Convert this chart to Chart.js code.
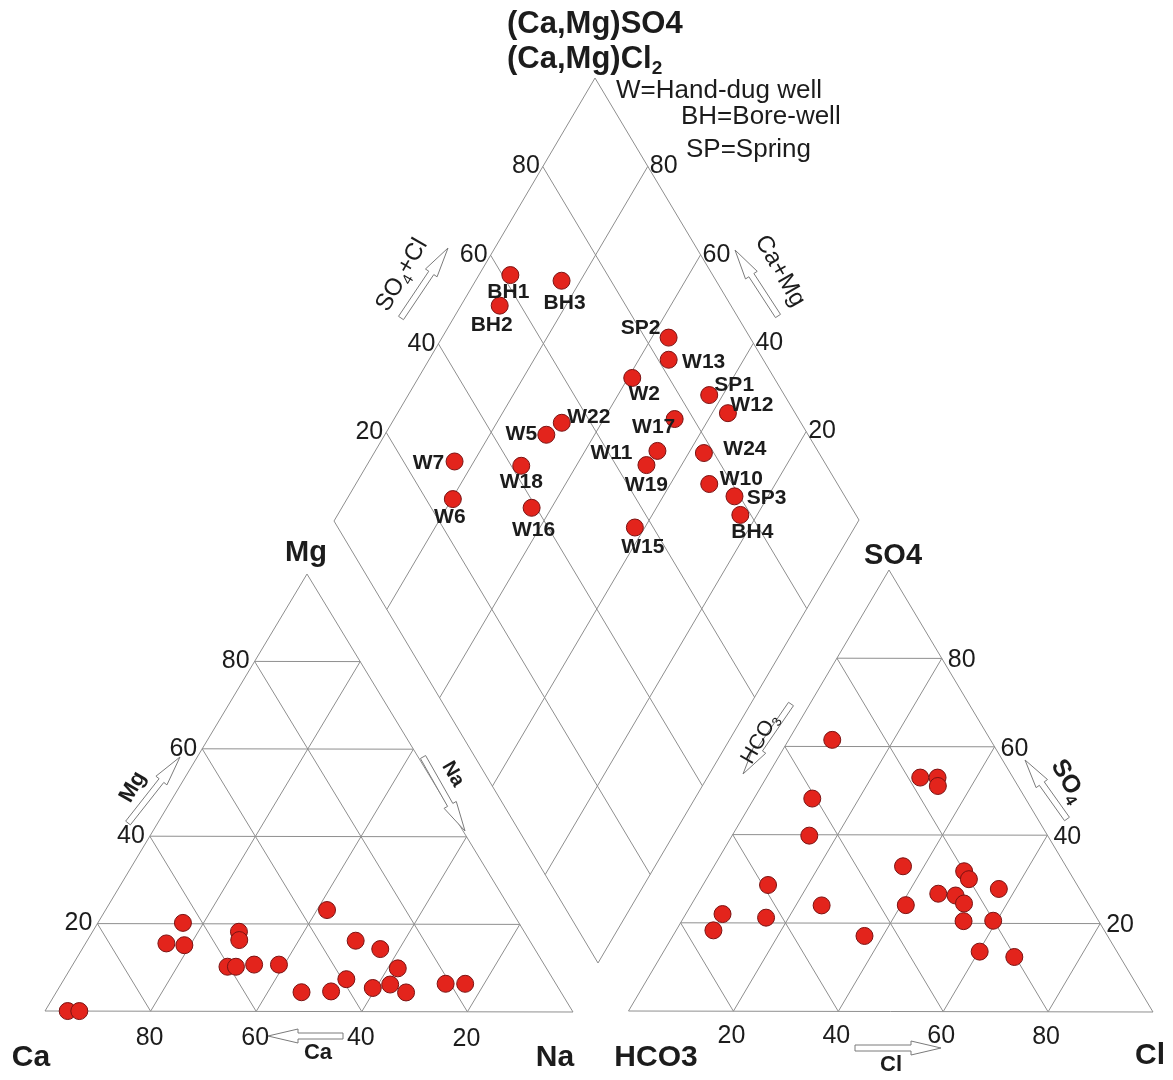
<!DOCTYPE html>
<html>
<head>
<meta charset="utf-8">
<script src="https://cdn.jsdelivr.net/npm/chart.js@4.4.0/dist/chart.umd.min.js"></script>
<style>
  body { margin: 0; background: #fff; }
  #wrap { width: 1173px; height: 1080px; }
</style>
</head>
<body>
<div id="wrap"><canvas id="piper" width="1173" height="1080"></canvas></div>
<script>
// tick values on every side
const ticks = [20, 40, 60, 80];

// cation triangle, meq % (Na = 100 - Ca - Mg)
const caPct = [95.7, 93.5, 63.7, 69.2, 66.0, 54.1, 55.0, 60.3, 58.7, 55.0, 50.3, 34.9,
  49.2, 43.5, 39.2, 33.0, 29.3, 35.2, 31.5, 28.2, 29.4, 20.9, 17.2];
const mgPct = [0, 0, 20.2, 15.5, 15.1, 18.2, 16.3, 10.2, 10.2, 10.7, 10.7, 23.2,
  4.4, 4.6, 7.4, 16.2, 14.3, 5.4, 6.2, 9.9, 4.4, 6.4, 6.4];

// anion triangle, meq % (HCO3 = 100 - SO4 - Cl)
const so4Pct = [61.5, 53.0, 53.0, 51.1, 48.2, 39.8, 32.9, 31.8, 30.0, 27.8, 26.7, 26.3,
  24.5, 24.1, 24.0, 28.6, 21.2, 22.0, 18.3, 20.5, 20.6, 17.1, 13.6, 12.4];
const clPct = [8.3, 29.3, 32.6, 33.6, 11.1, 14.7, 36.0, 48.2, 50.0, 56.8, 45.8, 49.3,
  51.8, 40.9, 24.9, 12.4, 15.7, 7.0, 7.1, 53.7, 59.3, 36.5, 60.2, 67.4];

// diamond
const sampleIds = ['BH1', 'BH2', 'BH3', 'SP2', 'W13', 'W2', 'SP1', 'W12', 'W17', 'W22', 'W5',
  'W11', 'W24', 'W19', 'W7', 'W18', 'W10', 'SP3', 'BH4', 'W6', 'W16', 'W15'];
const so4ClPct = [61.5, 56.0, 70.6, 84.5, 82.0, 73.0, 85.7, 87.2, 76.4, 54.5, 50.2,
  69.5, 78.1, 65.8, 29.7, 41.9, 75.6, 79.0, 78.0, 25.1, 39.1, 56.5];
const naPct = [6.0, 7.4, 16.4, 43.2, 45.7, 40.8, 57.4, 63.0, 53.5, 32.4, 30.8,
  53.8, 62.9, 53.3, 16.3, 29.5, 67.4, 73.6, 76.8, 20.2, 36.2, 58.1];

// ---- layout ----
const W = 1173, H = 1080;
const CAT = { ca: [45, 1011], na: [573, 1012], mg: [307, 574] };
const ANI = { hco3: [628.5, 1011], cl: [1153, 1012], so4: [889, 570] };
const DIA = { l: [334, 521], t: [595, 78], b: [598, 963] };
const FONT = '"Liberation Sans", Arial, sans-serif';
const GRID = '#8e8e8e';

function mix(pts, ws) {
  let x = 0, y = 0;
  pts.forEach((p, i) => { x += p[0] * ws[i]; y += p[1] * ws[i]; });
  return { x, y };
}
function catXY(ca, mg) {
  const na = 100 - ca - mg;
  return mix([CAT.ca, CAT.na, CAT.mg], [ca / 100, na / 100, mg / 100]);
}
function aniXY(so4, cl) {
  const h = 100 - so4 - cl;
  return mix([ANI.hco3, ANI.cl, ANI.so4], [h / 100, cl / 100, so4 / 100]);
}
function diaXY(s, n) {
  s /= 100; n /= 100;
  return {
    x: DIA.l[0] + s * (DIA.t[0] - DIA.l[0]) + n * (DIA.b[0] - DIA.l[0]),
    y: DIA.l[1] + s * (DIA.t[1] - DIA.l[1]) + n * (DIA.b[1] - DIA.l[1])
  };
}

const segs = [];
// cation triangle
segs.push([catXY(100, 0), catXY(0, 0)], [catXY(100, 0), catXY(0, 100)], [catXY(0, 0), catXY(0, 100)]);
ticks.forEach(t => {
  segs.push([catXY(100 - t, t), catXY(0, t)]);
  segs.push([catXY(t, 0), catXY(t, 100 - t)]);
  segs.push([catXY(100 - t, 0), catXY(0, 100 - t)]);
});
// anion triangle
segs.push([aniXY(0, 0), aniXY(0, 100)], [aniXY(0, 0), aniXY(100, 0)], [aniXY(0, 100), aniXY(100, 0)]);
ticks.forEach(t => {
  segs.push([aniXY(t, 0), aniXY(t, 100 - t)]);
  segs.push([aniXY(0, t), aniXY(100 - t, t)]);
  segs.push([aniXY(100 - t, 0), aniXY(0, 100 - t)]);
});
// diamond
segs.push([diaXY(0, 0), diaXY(100, 0)], [diaXY(100, 0), diaXY(100, 100)],
  [diaXY(100, 100), diaXY(0, 100)], [diaXY(0, 100), diaXY(0, 0)]);
ticks.forEach(t => {
  segs.push([diaXY(t, 0), diaXY(t, 100)]);
  segs.push([diaXY(0, t), diaXY(100, t)]);
});

const pointStyle = {
  showLine: false, pointRadius: 8.5, pointBackgroundColor: '#e3241c',
  pointBorderColor: '#7a1212', pointBorderWidth: 1
};
const datasets = [
  Object.assign({ data: caPct.map((c, i) => catXY(c, mgPct[i])) }, pointStyle),
  Object.assign({ data: so4Pct.map((s, i) => aniXY(s, clPct[i])) }, pointStyle),
  Object.assign({ data: so4ClPct.map((s, i) => diaXY(s, naPct[i])) }, pointStyle)
];
segs.forEach(s => datasets.push({
  data: s, showLine: true, pointRadius: 0, borderColor: GRID, borderWidth: 1, fill: false
}));

// where each sample label sits relative to its dot
const labelOffsets = {
  BH1: [-2, 17], BH2: [-8, 20], BH3: [3, 22], SP2: [-28, -9], W13: [35, 2], W2: [12, 16],
  SP1: [25, -10], W12: [24, -8], W17: [-21, 8], W22: [27, -6], W5: [-25, -1], W11: [-46, 2],
  W24: [41, -4], W19: [0, 20], W7: [-26, 2], W18: [0, 16], W10: [32, -5], SP3: [32, 2],
  BH4: [12, 17], W6: [-3, 18], W16: [2, 22], W15: [8, 20]
};

function arrow(ctx, x1, y1, x2, y2) {
  const dx = x2 - x1, dy = y2 - y1, len = Math.hypot(dx, dy);
  const ux = dx / len, uy = dy / len, nx = -uy, ny = ux;
  const hw = 3, hh = 7, hl = Math.min(30, len * 0.4);
  const bx = x2 - ux * hl, by = y2 - uy * hl;
  ctx.beginPath();
  ctx.moveTo(x1 + nx * hw, y1 + ny * hw);
  ctx.lineTo(bx + nx * hw, by + ny * hw);
  ctx.lineTo(bx + nx * hh, by + ny * hh);
  ctx.lineTo(x2, y2);
  ctx.lineTo(bx - nx * hh, by - ny * hh);
  ctx.lineTo(bx - nx * hw, by - ny * hw);
  ctx.lineTo(x1 - nx * hw, y1 - ny * hw);
  ctx.closePath();
  ctx.fillStyle = '#fff';
  ctx.fill();
  ctx.strokeStyle = '#7a7a7a';
  ctx.lineWidth = 1;
  ctx.stroke();
}

// parts: [['SO', 0], ['4', 1], ['+Cl', 0]]  (1 = subscript)
function rich(ctx, parts, x, y, size, bold, angle, align) {
  ctx.save();
  ctx.translate(x, y);
  ctx.rotate((angle || 0) * Math.PI / 180);
  const f = sub => (bold ? 'bold ' : '') + (sub ? Math.round(size * 0.62) : size) + 'px ' + FONT;
  let total = 0;
  const ws = parts.map(p => { ctx.font = f(p[1]); const w = ctx.measureText(p[0]).width; total += w; return w; });
  let cx = align === 'left' ? 0 : align === 'right' ? -total : -total / 2;
  ctx.textBaseline = 'middle';
  ctx.textAlign = 'left';
  ctx.fillStyle = '#1c1c1c';
  parts.forEach((p, i) => {
    ctx.font = f(p[1]);
    ctx.fillText(p[0], cx, p[1] ? size * 0.32 : 0);
    cx += ws[i];
  });
  ctx.restore();
}

const decor = {
  id: 'decor',
  afterDatasetsDraw(chart) {
    const ctx = chart.ctx;
    const sx = chart.scales.x, sy = chart.scales.y;
    const px = p => ({ x: sx.getPixelForValue(p.x), y: sy.getPixelForValue(p.y) });

    // titles + legend
    rich(ctx, [['(Ca,Mg)SO4', 0]], 507, 24, 31, true, 0, 'left');
    rich(ctx, [['(Ca,Mg)Cl', 0], ['2', 1]], 507, 59, 31, true, 0, 'left');
    rich(ctx, [['W=Hand-dug well', 0]], 616, 91, 26, false, 0, 'left');
    rich(ctx, [['BH=Bore-well', 0]], 681, 117, 26, false, 0, 'left');
    rich(ctx, [['SP=Spring', 0]], 686, 150, 26, false, 0, 'left');

    // corner names
    rich(ctx, [['Mg', 0]], 306, 553, 29, true);
    rich(ctx, [['SO4', 0]], 893, 556, 29, true);
    rich(ctx, [['Ca', 0]], 31, 1058, 30, true);
    rich(ctx, [['Na', 0]], 555, 1058, 30, true);
    rich(ctx, [['HCO3', 0]], 656, 1058, 30, true);
    rich(ctx, [['Cl', 0]], 1150, 1056, 30, true);

    // tick labels
    ticks.forEach(t => {
      const s = String(t);
      let p = px(catXY(100 - t, t));
      rich(ctx, [[s, 0]], p.x - 5, p.y, 25, false, 0, 'right');
      p = px(catXY(t, 0));
      rich(ctx, [[s, 0]], p.x - 1, p.y + 27, 25, false);
      p = px(aniXY(0, t));
      rich(ctx, [[s, 0]], p.x - 2, p.y + 25, 25, false);
      p = px(aniXY(t, 100 - t));
      rich(ctx, [[s, 0]], p.x + 6, p.y + 2, 25, false, 0, 'left');
      p = px(diaXY(t, 0));
      rich(ctx, [[s, 0]], p.x - 3, p.y, 25, false, 0, 'right');
      p = px(diaXY(100, 100 - t));
      rich(ctx, [[s, 0]], p.x + 2, p.y, 25, false, 0, 'left');
    });

    // direction arrows
    arrow(ctx, 128, 823, 180, 757);
    arrow(ctx, 423, 757, 465, 831);
    arrow(ctx, 343, 1036, 268, 1036);
    arrow(ctx, 791, 704, 743, 774);
    arrow(ctx, 1067, 819, 1025, 760);
    arrow(ctx, 855, 1048, 941, 1048);
    arrow(ctx, 401, 318, 448, 248);
    arrow(ctx, 778, 316, 735, 250);
    rich(ctx, [['Mg', 0]], 133, 787, 22, true, -60);
    rich(ctx, [['Na', 0]], 453, 774, 20, true, 60);
    rich(ctx, [['Ca', 0]], 318, 1053, 22, true);
    rich(ctx, [['HCO', 0], ['3', 1]], 760, 739, 21, false, -60);
    rich(ctx, [['SO', 0], ['4', 1]], 1068, 781, 25, true, 60);
    rich(ctx, [['Cl', 0]], 891, 1065, 22, true);
    rich(ctx, [['SO', 0], ['4', 1], ['+Cl', 0]], 402, 275, 24, false, -60);
    rich(ctx, [['Ca+Mg', 0]], 780, 271, 24, false, 60);

    // sample labels in the diamond
    const meta = chart.getDatasetMeta(2);
    meta.data.forEach((el, i) => {
      const id = sampleIds[i];
      const o = labelOffsets[id] || [0, 18];
      rich(ctx, [[id, 0]], el.x + o[0], el.y + o[1], 21, true);
    });
  }
};

new Chart(document.getElementById('piper'), {
  type: 'scatter',
  data: { datasets },
  options: {
    responsive: false,
    animation: false,
    layout: { padding: 0, autoPadding: false },
    plugins: { legend: { display: false }, tooltip: { enabled: false } },
    scales: {
      x: { type: 'linear', min: 0, max: W, display: false },
      y: { type: 'linear', min: 0, max: H, reverse: true, display: false }
    }
  },
  plugins: [decor]
});
</script>
</body>
</html>
